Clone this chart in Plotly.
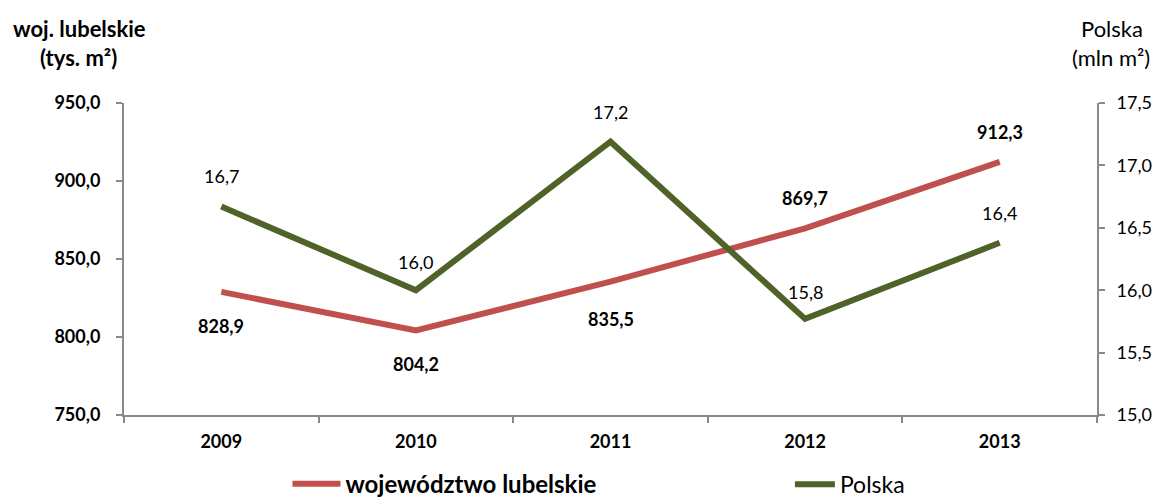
import plotly.graph_objects as go

years = ["2009", "2010", "2011", "2012", "2013"]
lubelskie = [828.9, 804.2, 835.5, 869.7, 912.3]
polska = [16.67, 16.0, 17.19, 15.77, 16.38]
lub_label_shift = [-34, -34, -37, 30, 30]
pol_label_shift = [31, 28, 30, 27, 30]

RED = "#C0504D"
GREEN = "#4F6228"
AXIS = "#898989"
FONT = "Lato"
FS = 18   # numbers
FT = 22   # words

fig = go.Figure()
fig.add_trace(go.Scatter(x=years, y=lubelskie, mode="lines", name="<b>województwo lubelskie</b>",
                         line=dict(color=RED, width=6), yaxis="y", legend="legend"))
fig.add_trace(go.Scatter(x=years, y=polska, mode="lines", name="Polska",
                         line=dict(color=GREEN, width=6), yaxis="y2", legend="legend2"))

ann = []
for i, (v, s) in enumerate(zip(lubelskie, lub_label_shift)):
    ann.append(dict(x=i, y=v, xref="x", yref="y", text="<b>" + f"{v:.1f}".replace(".", ",") + "</b>",
                    showarrow=False, yshift=s, font=dict(size=FS, color="#000", family=FONT)))
for i, (v, s) in enumerate(zip(polska, pol_label_shift)):
    ann.append(dict(x=i, y=v, xref="x", yref="y2", text=f"{v:.1f}".replace(".", ","),
                    showarrow=False, yshift=s, font=dict(size=FS, color="#000", family=FONT)))

ann += [
    dict(x=-0.046, y=1.240, xref="paper", yref="paper", text="<b>woj. lubelskie</b>", showarrow=False,
         xanchor="center", yanchor="middle", font=dict(size=FT, family=FONT, color="#000")),
    dict(x=-0.047, y=1.147, xref="paper", yref="paper", text="<b>(tys. m²)</b>", showarrow=False,
         xanchor="center", yanchor="middle", font=dict(size=FT, family=FONT, color="#000")),
    dict(x=1.0154, y=1.240, xref="paper", yref="paper", text="Polska", showarrow=False,
         xanchor="center", yanchor="middle", font=dict(size=FT, family=FONT, color="#000")),
    dict(x=1.0145, y=1.147, xref="paper", yref="paper", text="(mln m²)", showarrow=False,
         xanchor="center", yanchor="middle", font=dict(size=FT, family=FONT, color="#000")),
]

fig.update_layout(
    width=1157, height=498,
    margin=dict(l=124, r=60, t=103, b=83, autoexpand=False),
    paper_bgcolor="white", plot_bgcolor="white",
    separators=", ",
    font=dict(family=FONT, size=FS, color="#000"),
    showlegend=True,
    legend=dict(orientation="h", x=0.168, y=-0.222, xanchor="left", yanchor="middle",
                font=dict(size=24, family=FONT), bgcolor="rgba(0,0,0,0)", itemwidth=48),
    legend2=dict(orientation="h", x=0.6844, y=-0.222, xanchor="left", yanchor="middle",
                 font=dict(size=23, family=FONT), bgcolor="rgba(0,0,0,0)", itemwidth=40),
    xaxis=dict(type="category", range=[-0.5, 4.5], showline=True, linecolor=AXIS, linewidth=2,
               ticks="outside", tickson="boundaries", ticklen=6, tickcolor=AXIS, tickwidth=2,
               showgrid=False, tickfont=dict(size=FS, family=FONT), tickprefix="<b>", ticksuffix="</b>",
               ticklabelstandoff=9, automargin=False),
    yaxis=dict(range=[750, 950], dtick=50, tickformat=".1f", showline=True, linecolor=AXIS, linewidth=2,
               ticks="outside", ticklen=6, tickcolor=AXIS, tickwidth=2, showgrid=False, zeroline=False,
               tickprefix="<b>", ticksuffix="</b>", tickfont=dict(size=FS, family=FONT),
               ticklabelstandoff=12, automargin=False),
    yaxis2=dict(range=[15, 17.5], dtick=0.5, tickformat=".1f", overlaying="y", side="right",
                showline=True, linecolor=AXIS, linewidth=2, ticks="outside", ticklen=6, tickcolor=AXIS,
                tickwidth=2, showgrid=False, zeroline=False, tickfont=dict(size=FS, family=FONT),
                ticklabelstandoff=8, automargin=False),
    annotations=ann,
)

fig.write_html("out.html", config={"displayModeBar": False},
               post_script="document.body.style.margin='0';document.body.style.overflow='hidden';"
                           "document.documentElement.style.overflow='hidden';")
